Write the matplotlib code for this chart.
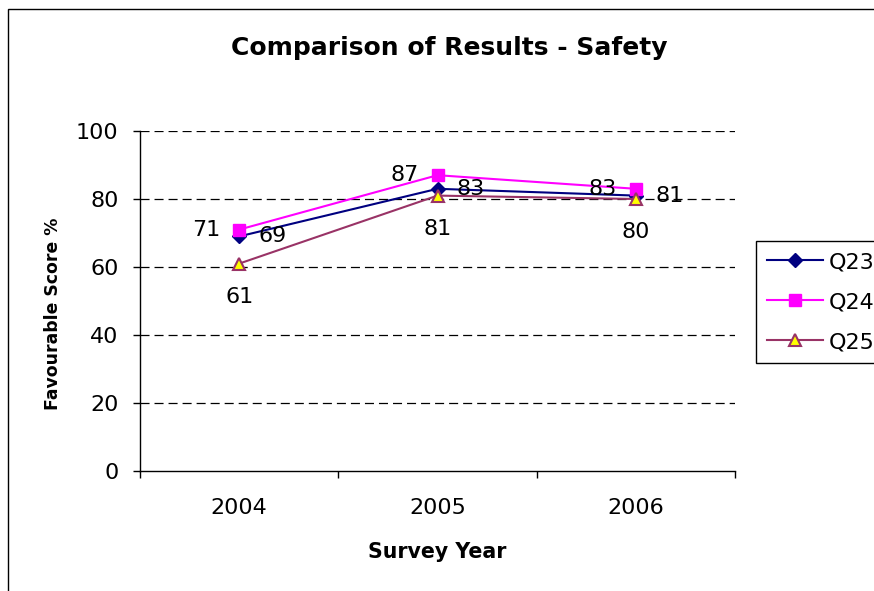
import matplotlib
matplotlib.use("Agg")
import matplotlib.pyplot as plt
from matplotlib.patches import Rectangle

plt.rcParams['font.family'] = ['DejaVu Sans']
plt.rcParams['lines.scale_dashes'] = False

years = ["2004", "2005", "2006"]
series_names = ["Q23", "Q24", "Q25"]
q23 = [69, 83, 81]
q24 = [71, 87, 83]
q25 = [61, 81, 80]
y_ticks = [0, 20, 40, 60, 80, 100]

W, H = 874, 591
fig = plt.figure(figsize=(W / 100, H / 100), dpi=100)

# outer chart frame
fig.add_artist(Rectangle((8 / W, -0.05), 1.1, (H - 9) / H + 0.05,
                         transform=fig.transFigure, fill=False,
                         edgecolor='black', linewidth=1.0))

ax = fig.add_axes([140 / W, (H - 471) / H, (735 - 140) / W, (471 - 131) / H])
x = list(range(len(years)))

styles = {
    "Q23": dict(color='#000080', marker='D', markersize=7.5,
                markerfacecolor='#000080', markeredgecolor='#000080'),
    "Q24": dict(color='#FF00FF', marker='s', markersize=8,
                markerfacecolor='#FF00FF', markeredgecolor='#FF00FF'),
    "Q25": dict(color='#993366', marker='^', markersize=9,
                markerfacecolor='#FFFF00', markeredgecolor='#993366',
                markeredgewidth=1.5),
}
data = {"Q23": q23, "Q24": q24, "Q25": q25}
offsets = {"Q23": (24, 0), "Q24": (-24, 0), "Q25": (0, -24)}

for name in series_names:
    ax.plot(x, data[name], linewidth=1.5, label=name, zorder=3, **styles[name])

for name in series_names:
    for xi, v in zip(x, data[name]):
        ax.annotate(str(v), (xi, v), textcoords='offset points',
                    xytext=offsets[name], ha='center', va='center',
                    fontsize=16, color='black', zorder=4)

ax.set_xlim(-0.5, 2.5)
ax.set_ylim(0, 100)
ax.set_yticks(y_ticks)
ax.set_yticklabels([str(t) for t in y_ticks], fontsize=16)
ax.set_xticks([-0.5, 0.5, 1.5, 2.5])
ax.set_xticklabels([])
ax.set_xticks(x, minor=True)
ax.set_xticklabels(years, minor=True, fontsize=16)
ax.tick_params(axis='x', which='major', direction='out', length=5, width=1)
ax.tick_params(axis='x', which='minor', length=0, pad=19.5)
ax.tick_params(axis='y', direction='out', length=5, width=1, pad=10.5)

for t in y_ticks[1:]:
    ax.axhline(t, color='black', linewidth=0.9, linestyle=(0, (6.5, 3.6)),
               zorder=1)

ax.spines['top'].set_visible(False)
ax.spines['right'].set_visible(False)
ax.spines['left'].set_linewidth(1)
ax.spines['bottom'].set_linewidth(1)

ax.set_xlabel("Survey Year", fontsize=14.8, fontweight='bold', labelpad=17)
ax.set_ylabel("Favourable Score %", fontsize=12.4, fontweight='bold')
ax.yaxis.set_label_coords(-0.131, 0.462)

fig.text(449 / W, 1 - 48 / H, "Comparison of Results - Safety",
         ha='center', va='center', fontsize=18, fontweight='bold')

leg = fig.legend(loc='upper left', bbox_to_anchor=(756 / W, 1 - 241 / H),
                 fontsize=16, frameon=True, fancybox=False,
                 edgecolor='black', framealpha=1, borderpad=0.5,
                 handlelength=2.5, handletextpad=0.27, labelspacing=0.9,
                 borderaxespad=0)
leg.get_frame().set_linewidth(1)

fig.savefig("out.png", dpi=100)
